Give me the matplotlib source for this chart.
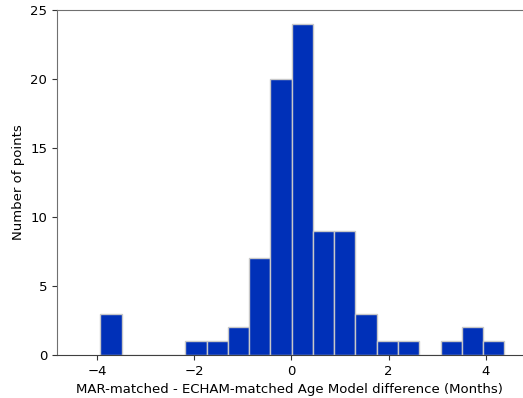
import matplotlib
matplotlib.use("Agg")
import matplotlib.pyplot as plt
import numpy as np

# Histogram counts per bin
counts = [3, 0, 0, 0, 1, 1, 2, 7, 20, 24, 9, 9, 3, 1, 1, 0, 1, 2, 1]
bin_low = -3.93
bin_high = 4.377
edges = np.linspace(bin_low, bin_high, len(counts) + 1)
centers = (edges[:-1] + edges[1:]) / 2

fig = plt.figure(figsize=(5.23, 3.98), dpi=100)
ax = fig.add_axes([57/523, 1 - 355/398, (522 - 57)/523, (355 - 10)/398])

ax.hist(centers, bins=edges, weights=counts, color="#0030b8",
        edgecolor="#c8c8c8", linewidth=1.0)

ax.set_xlim(-4.82, 4.74)
ax.set_ylim(0, 25)
ax.set_xticks([-4, -2, 0, 2, 4])
ax.set_yticks([0, 5, 10, 15, 20, 25])
ax.set_xlabel("MAR-matched - ECHAM-matched Age Model difference (Months)", fontsize=9.5)
ax.set_ylabel("Number of points", fontsize=9.5)
ax.tick_params(labelsize=9.5, color="#333333")

for s in ["left", "top", "bottom"]:
    ax.spines[s].set_color("#707070")
ax.spines["bottom"].set_color("#404040")
ax.spines["right"].set_visible(False)

fig.savefig("out.png", dpi=100)
